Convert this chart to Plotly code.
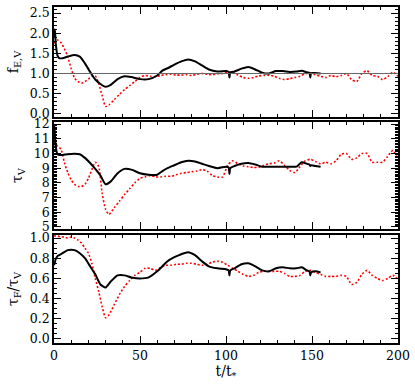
import plotly.graph_objects as go
from plotly.subplots import make_subplots

# ---------------------------------------------------------------------------
# Data
# ---------------------------------------------------------------------------
t_black = [0, 0.5, 1, 2, 3, 5, 8, 12, 15, 18, 21, 24, 27, 30, 33, 37, 41, 45,
           50, 55, 60, 63, 66, 70, 74, 78, 82, 86, 90, 95, 100, 101.5, 102,
           102.5, 105, 109, 113, 117, 121, 125, 129, 133, 137, 141, 144, 147,
           148.5, 149, 149.5, 152, 155]

f_black = [1.9, 2.1, 1.75, 1.45, 1.38, 1.38, 1.42, 1.46, 1.42, 1.25, 1.04,
           0.85, 0.74, 0.67, 0.72, 0.86, 0.93, 0.91, 0.86, 0.86, 0.95, 1.07,
           1.13, 1.22, 1.3, 1.35, 1.3, 1.2, 1.1, 1.05, 1.06, 1.04, 0.9, 1.02,
           1.05, 1.12, 1.16, 1.1, 1.02, 1.0, 1.06, 1.06, 1.04, 1.05, 1.07,
           1.03, 1.02, 0.9, 1.01, 1.01, 1.0]

tau_black = [12.0, 11.3, 10.5, 9.95, 9.9, 9.9, 9.95, 9.98, 9.95, 9.7, 9.35,
             8.95, 8.5, 7.9, 8.1, 8.65, 8.95, 8.9, 8.65, 8.55, 8.55, 8.8, 9.0,
             9.2, 9.4, 9.5, 9.45, 9.3, 9.15, 9.0, 9.1, 9.05, 8.6, 9.0, 9.15,
             9.3, 9.35, 9.25, 9.1, 9.1, 9.1, 9.1, 9.1, 9.1, 9.4, 9.3, 9.25,
             9.15, 9.2, 9.15, 9.1]

ratio_black = [0.73, 0.76, 0.79, 0.82, 0.83, 0.85, 0.88, 0.88, 0.85, 0.8, 0.72,
               0.64, 0.54, 0.51, 0.57, 0.63, 0.63, 0.61, 0.6, 0.61, 0.67, 0.72,
               0.77, 0.81, 0.84, 0.86, 0.83, 0.77, 0.72, 0.7, 0.69, 0.68, 0.63,
               0.68, 0.7, 0.74, 0.75, 0.72, 0.68, 0.67, 0.7, 0.71, 0.7, 0.7,
               0.71, 0.68, 0.67, 0.63, 0.66, 0.67, 0.66]

t_red = [0, 2, 4, 6, 8, 10, 12, 14, 16, 18, 20, 22, 24, 26, 28, 30, 32, 35, 38,
         41, 44, 47, 50, 53, 56, 59, 62, 65, 68, 71, 74, 77, 80, 83, 86, 89,
         92, 95, 98, 101, 104, 107, 110, 113, 116, 119, 122, 125, 128, 131,
         134, 137, 140, 143, 146, 149, 152, 155, 158, 161, 164, 167, 170, 173,
         176, 179, 182, 185, 188, 191, 194, 197, 200]

f_red = [1.75, 1.83, 1.77, 1.62, 1.42, 1.12, 0.88, 0.8, 0.76, 0.8, 0.86, 0.93,
         0.94, 0.75, 0.45, 0.18, 0.22, 0.35, 0.48, 0.6, 0.7, 0.8, 0.9, 0.95,
         0.93, 0.92, 0.95, 0.97, 0.98, 0.96, 0.96, 0.97, 0.95, 0.98, 1.0, 0.98,
         0.97, 0.99, 1.0, 1.04, 1.02, 0.96, 0.9, 0.88, 0.9, 0.94, 0.95, 0.96,
         0.93, 0.88, 0.85, 0.87, 0.9, 0.93, 1.0, 1.0, 0.97, 0.93, 0.9, 0.95,
         0.92, 0.95, 1.0, 0.85, 0.8, 1.0, 1.07, 0.95, 0.93, 0.85, 0.92, 1.03,
         0.93]

tau_red = [10.8, 10.5, 10.3, 9.4, 8.7, 8.2, 7.9, 7.75, 7.75, 7.9, 8.3, 8.9,
           9.4, 9.1, 7.3, 6.2, 5.85, 6.3, 6.75, 7.2, 7.6, 8.0, 8.3, 8.4, 8.5,
           8.4, 8.4, 8.45, 8.45, 8.55, 8.65, 8.7, 8.75, 8.8, 8.9, 8.8, 8.5,
           8.4, 8.4, 9.2, 9.5, 9.3, 9.15, 9.1, 9.05, 9.05, 9.2, 9.3, 9.35, 9.5,
           9.2, 8.85, 8.7, 9.1, 9.5, 9.6, 9.45, 9.3, 9.4, 9.3, 9.5, 9.95, 10.0,
           9.6, 9.7, 10.0, 10.0, 9.4, 9.4, 9.4, 9.8, 10.2, 9.6]

ratio_red = [1.02, 1.02, 1.01, 1.01, 1.0, 1.01, 1.0, 0.98, 0.95, 0.9, 0.85,
             0.75, 0.6, 0.47, 0.32, 0.21, 0.24, 0.34, 0.44, 0.52, 0.58, 0.63,
             0.66, 0.7, 0.7, 0.68, 0.71, 0.73, 0.73, 0.74, 0.74, 0.75, 0.75,
             0.74, 0.73, 0.74, 0.76, 0.77, 0.76, 0.73, 0.7, 0.67, 0.64, 0.62,
             0.63, 0.66, 0.67, 0.67, 0.67, 0.67, 0.65, 0.62, 0.62, 0.63, 0.67,
             0.68, 0.66, 0.64, 0.62, 0.62, 0.62, 0.63, 0.62, 0.54, 0.56, 0.64,
             0.68, 0.63, 0.6, 0.58, 0.6, 0.63, 0.59]

FONT = "DejaVu Serif, Liberation Serif, serif"

fig = make_subplots(rows=3, cols=1, shared_xaxes=True)

panels = [(f_black, f_red), (tau_black, tau_red), (ratio_black, ratio_red)]
for i, (yb, yr) in enumerate(panels, start=1):
    fig.add_trace(go.Scatter(x=t_red, y=yr, mode="lines",
                             line=dict(color="#ff0000", width=1.6, dash="2px,2px",
                                       shape="spline", smoothing=0.6),
                             showlegend=False), row=i, col=1)
    fig.add_trace(go.Scatter(x=t_black, y=yb, mode="lines",
                             line=dict(color="black", width=2,
                                       shape="spline", smoothing=0.6),
                             showlegend=False), row=i, col=1)

fig.add_hline(y=1, line=dict(color="#666666", width=1), row=1, col=1)

axis_common = dict(
    showline=True, linecolor="black", linewidth=1.5, mirror="allticks",
    ticks="inside", ticklen=7, tickwidth=1, tickcolor="black",
    showgrid=False, zeroline=False,
    tickfont=dict(family=FONT, size=12.5, color="black"),
)

domains = [[0.6726, 1.0], [0.3393, 0.6577], [0.0, 0.3214]]
yranges = [[-0.08, 2.65], [4.86, 12.14], [-0.04, 1.03]]
ydticks = [0.5, 1, 0.2]
yminor = [0.1, 0.1, 0.05]
yfmt = [".1f", "d", ".1f"]
ytitles = ["f<sub>E,V</sub>", "τ<sub>V</sub>", "τ<sub>F</sub>/τ<sub>V</sub>"]

for i in range(3):
    fig.update_yaxes(
        domain=domains[i], range=yranges[i], dtick=ydticks[i], tickformat=yfmt[i],
        minor=dict(dtick=yminor[i], ticks="inside", ticklen=3.5, tickcolor="black"),
        title=dict(text=ytitles[i], font=dict(family=FONT, size=14, color="black"),
                   standoff=8),
        row=i + 1, col=1, **axis_common,
    )
    fig.update_xaxes(
        range=[0, 200], dtick=50,
        minor=dict(dtick=10, ticks="inside", ticklen=3.5, tickcolor="black"),
        showticklabels=(i == 2),
        row=i + 1, col=1, **axis_common,
    )

fig.update_xaxes(title=dict(text="t/t<sub>*</sub>",
                            font=dict(family=FONT, size=14, color="black"),
                            standoff=0), row=3, col=1)

fig.update_layout(
    width=415, height=386,
    margin=dict(l=54, r=17, t=7, b=43, autoexpand=False),
    paper_bgcolor="white", plot_bgcolor="white",
    font=dict(family=FONT, color="black"),
)

# drop the default page margin so the figure sits at the window's corner
fig.write_html("out.html", config={"displayModeBar": False},
               post_script="document.body.style.margin='0';")
